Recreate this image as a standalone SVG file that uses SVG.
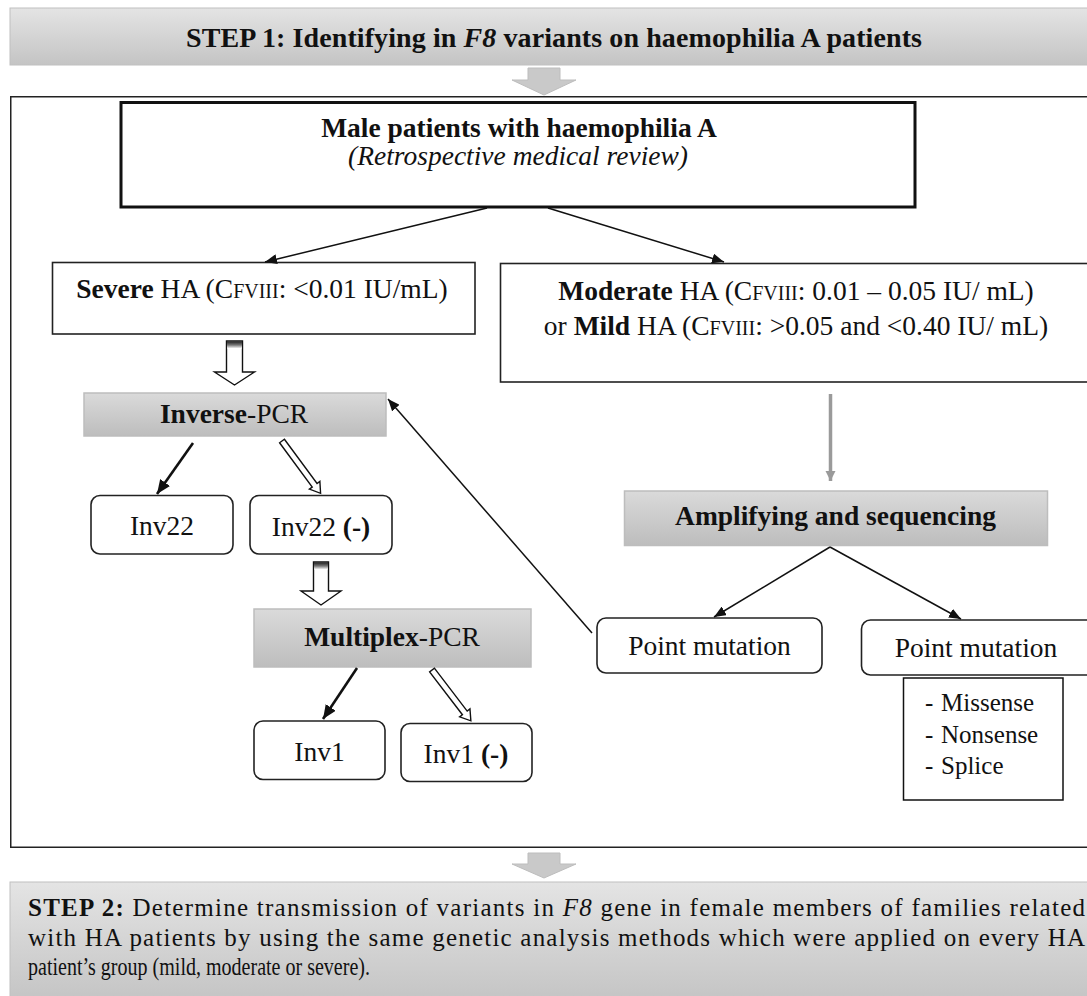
<svg xmlns="http://www.w3.org/2000/svg" width="1087" height="996" viewBox="0 0 1087 996">
<defs>
<style>
text{font-family:"Liberation Serif","Times New Roman",serif;fill:#111;}
.t{font-size:27.5px;}
.b{font-weight:bold;}
.sc{font-size:20px;}
.box{fill:#fff;stroke:#222;stroke-width:1.6;}
.rbox{fill:#fff;stroke:#222;stroke-width:1.6;}
.gbox{fill:url(#boxGrad);stroke:#bdbdbd;stroke-width:1.5;}
.ln{stroke:#111;stroke-width:1.5;fill:none;}
.thick{stroke:#111;stroke-width:2.6;fill:none;}
.hollow{fill:#fff;stroke:#111;stroke-width:1.4;}
.garrow{fill:#c9c9c9;stroke:#bdbdbd;stroke-width:1;}
</style>
<linearGradient id="bannerGrad" x1="0" y1="0" x2="0" y2="1">
<stop offset="0" stop-color="#e4e4e4"/>
<stop offset="1" stop-color="#c4c4c4"/>
</linearGradient>
<linearGradient id="boxGrad" x1="0" y1="0" x2="0" y2="1">
<stop offset="0" stop-color="#dadada"/>
<stop offset="1" stop-color="#bdbdbd"/>
</linearGradient>
<linearGradient id="tailGrad" x1="0" y1="0" x2="0" y2="1">
<stop offset="0" stop-color="#222"/>
<stop offset="0.5" stop-color="#777"/>
<stop offset="1" stop-color="#fff"/>
</linearGradient>
<marker id="ah" viewBox="0 0 12 10" refX="12" refY="5" markerWidth="12" markerHeight="10" markerUnits="userSpaceOnUse" orient="auto">
<path d="M0,0 L12,5 L0,10 z" fill="#111"/>
</marker>
<marker id="ahb" viewBox="0 0 14 12" refX="14" refY="6" markerWidth="14" markerHeight="12" markerUnits="userSpaceOnUse" orient="auto">
<path d="M0,0 L14,6 L0,12 z" fill="#111"/>
</marker>
<marker id="ahg" viewBox="0 0 10 12" refX="10" refY="6" markerWidth="10" markerHeight="12" markerUnits="userSpaceOnUse" orient="auto">
<path d="M0,1 L10,6 L0,11 z" fill="#9a9a9a"/>
</marker>
</defs>

<rect width="1087" height="996" fill="#fff"/>

<g id="step1">
<rect x="10" y="8" width="1090" height="57" fill="url(#bannerGrad)" stroke="#c0c0c0" stroke-width="1"/>
<text x="554" y="47" class="b" font-size="28" text-anchor="middle" textLength="736">STEP 1: Identifying in <tspan font-style="italic">F8</tspan> variants on haemophilia A patients</text>
</g>

<g id="frame">
<rect x="10.75" y="96.75" width="1090" height="750.5" fill="none" stroke="#222" stroke-width="1.5"/>
</g>

<g id="step2">
<rect x="10" y="882" width="1090" height="120" fill="url(#bannerGrad)" stroke="#c0c0c0" stroke-width="1"/>
<text x="28" y="916" font-size="25" textLength="1057"><tspan class="b">STEP 2:</tspan> Determine transmission of variants in <tspan font-style="italic">F8</tspan> gene in female members of families related</text>
<text x="28" y="946" font-size="25" textLength="1057">with HA patients by using the same genetic analysis methods which were applied on every HA</text>
<text x="28" y="975" font-size="25" textLength="342" lengthAdjust="spacingAndGlyphs">patient’s group (mild, moderate or severe).</text>
</g>

<g id="male">
<rect x="121" y="102.5" width="794" height="104.5" fill="#fff" stroke="#111" stroke-width="3"/>
<text x="519" y="137" class="t b" text-anchor="middle">Male patients with haemophilia A</text>
<text x="518" y="165" class="t" font-style="italic" text-anchor="middle">(Retrospective medical review)</text>
</g>

<g id="severe">
<rect x="52.5" y="262.5" width="422.5" height="71.5" class="box"/>
<text x="262" y="298" class="t" text-anchor="middle"><tspan class="b">Severe</tspan> HA (C<tspan class="sc">FVIII</tspan>: &lt;0.01 IU/mL)</text>
</g>

<g id="moderate">
<rect x="500.5" y="263.5" width="600" height="118.5" class="box"/>
<text x="796" y="300" class="t" text-anchor="middle"><tspan class="b">Moderate</tspan> HA (C<tspan class="sc">FVIII</tspan>: 0.01 – 0.05 IU/ mL)</text>
<text x="796" y="335" class="t" text-anchor="middle">or <tspan class="b">Mild</tspan> HA (C<tspan class="sc">FVIII</tspan>: &gt;0.05 and &lt;0.40 IU/ mL)</text>
</g>

<g id="inverse">
<rect x="84" y="393" width="302" height="43" class="gbox"/>
<text x="234" y="423" class="t" text-anchor="middle"><tspan class="b">Inverse</tspan>-PCR</text>
</g>

<g id="inv22">
<rect x="91" y="495.5" width="142" height="58.5" rx="9" class="rbox"/>
<text x="162" y="535" class="t" text-anchor="middle">Inv22</text>
</g>

<g id="inv22neg">
<rect x="250" y="495.5" width="142" height="58.5" rx="9" class="rbox"/>
<text x="321" y="536" class="t" text-anchor="middle">Inv22 <tspan class="b">(-)</tspan></text>
</g>

<g id="multiplex">
<rect x="254" y="609" width="277" height="58" class="gbox"/>
<text x="392" y="646" class="t" text-anchor="middle"><tspan class="b">Multiplex</tspan>-PCR</text>
</g>

<g id="inv1">
<rect x="254" y="721" width="131" height="58.5" rx="9" class="rbox"/>
<text x="319.5" y="761" class="t" text-anchor="middle">Inv1</text>
</g>

<g id="inv1neg">
<rect x="401" y="723.5" width="131" height="58" rx="9" class="rbox"/>
<text x="466" y="763" class="t" text-anchor="middle">Inv1 <tspan class="b">(-)</tspan></text>
</g>

<g id="amplifying">
<rect x="624.5" y="491" width="423" height="54.5" class="gbox"/>
<text x="835.5" y="525" class="t b" text-anchor="middle">Amplifying and sequencing</text>
</g>

<g id="point1">
<rect x="597" y="618" width="225" height="55" rx="9" class="rbox"/>
<text x="709.5" y="655" class="t" text-anchor="middle">Point mutation</text>
</g>

<g id="point2">
<rect x="861.5" y="620" width="240" height="55" rx="9" class="rbox"/>
<text x="976" y="657" class="t" text-anchor="middle">Point mutation</text>
</g>

<g id="types">
<rect x="903.5" y="678" width="159.5" height="122" fill="#fff" stroke="#111" stroke-width="1.5"/>
<text x="925" y="711" font-size="25">-</text><text x="941" y="711" font-size="25">Missense</text>
<text x="925" y="743" font-size="25">-</text><text x="941" y="743" font-size="25">Nonsense</text>
<text x="925" y="774" font-size="25">-</text><text x="941" y="774" font-size="25">Splice</text>
</g>

<g id="connectors">
<polygon class="garrow" points="528,68 560,68 560,80 576,80 544,95 512,80 528,80"/>
<polygon class="garrow" points="528,853 560,853 560,864 576,864 544,878 512,864 528,864"/>
<line class="ln" x1="487" y1="208" x2="265" y2="262" marker-end="url(#ah)"/>
<line class="ln" x1="548" y1="208" x2="724" y2="262" marker-end="url(#ah)"/>
<polygon class="hollow" points="226.5,341 242.5,341 242.5,372 254.5,372 234.5,385 214.5,372 226.5,372"/>
<rect x="227" y="341.5" width="15" height="7" fill="url(#tailGrad)"/>
<polygon class="hollow" points="313.5,562 328.5,562 328.5,591 341,591 321,605 301,591 313.5,591"/>
<rect x="314" y="562.5" width="14" height="7" fill="url(#tailGrad)"/>
<line class="thick" x1="193" y1="443" x2="157" y2="494" marker-end="url(#ahb)"/>
<polygon class="hollow" transform="translate(282,441) rotate(53.6)" points="0,-3 55,-3 55,-6.5 65,0 55,6.5 55,3 0,3"/>
<line class="thick" x1="357" y1="668" x2="323" y2="719" marker-end="url(#ahb)"/>
<polygon class="hollow" transform="translate(432,670) rotate(52.6)" points="0,-3 54,-3 54,-6.5 64,0 54,6.5 54,3 0,3"/>
<line x1="830.5" y1="394" x2="830.5" y2="481" stroke="#9a9a9a" stroke-width="3.5" marker-end="url(#ahg)"/>
<line class="ln" x1="830" y1="547" x2="714" y2="617" marker-end="url(#ah)"/>
<line class="ln" x1="830" y1="547" x2="961" y2="619" marker-end="url(#ah)"/>
<line class="ln" x1="592" y1="633" x2="388" y2="399" marker-end="url(#ah)"/>
</g>
</svg>
